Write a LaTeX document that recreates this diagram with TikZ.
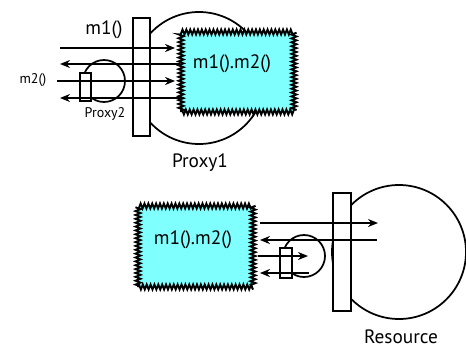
\documentclass[tikz,border=0pt]{standalone}
\usepackage{fontspec}
\setmainfont{PT Sans}
\usetikzlibrary{arrows.meta,decorations.pathmorphing}
\definecolor{cloudcyan}{RGB}{128,255,255}
\newcommand{\px}{0.75pt}

\begin{document}
\begin{tikzpicture}[x=\px,y=-\px,line width=1.3pt,
    ball/.style={draw,circle,inner sep=0pt},
    bar/.style={draw,fill=white,rectangle,inner sep=0pt},
    cloudbox/.style={draw,fill=cloudcyan,inner sep=0pt,line width=1.4pt,
      line join=miter,decorate,
      decoration={zigzag,segment length=2.9pt,amplitude=1.9pt}},
    msg/.style={-{Stealth[length=7.5pt,width=6pt]}},
    big/.style={font=\fontsize{14.5}{16}\selectfont},
    small/.style={font=\fontsize{10.5}{12}\selectfont}]
  \useasboundingbox (0,0) rectangle (466,350);

  % Proxy1 with Proxy2 in front
  \node[ball,minimum size=132*\px] (proxy1) at (199,78) {};
  \node[bar,minimum width=17*\px,minimum height=118*\px] (bar1) at (141.5,77) {};
  \node[ball,minimum size=42*\px] (proxy2) at (104,81) {};
  \node[bar,minimum width=11*\px,minimum height=28*\px] (bar2) at (85.5,87) {};

  \node[cloudbox,minimum width=113*\px,minimum height=80*\px] (cloud1) at (237.5,72) {};
  \node[big] (txt1) at (232,64) {m1().m2()};

  \coordinate (a1) at (60,48);
  \coordinate (a2) at (60,64);
  \coordinate (a3) at (57,81);
  \coordinate (a4) at (60,98);
  \draw[msg,shorten >=3.75pt] (a1) -- (a1 -| cloud1.west);
  \draw[msg] (a2 -| cloud1.west) -- (a2);
  \draw[msg,shorten >=3.75pt] (a3) -- (a3 -| cloud1.west);
  \draw[msg] (a4 -| cloud1.west) -- (a4);

  \node[big] (lblm1) at (104,30) {m1()};
  \node[small] (lblm2) at (33,80) {m2()};
  \node[small] (lblp2) at (105,114) {Proxy2};
  \node[big] (lblp1) at (200,163) {Proxy1};

  % Resource
  \node[ball,minimum size=134*\px] (res) at (399,252) {};
  \node[bar,minimum width=18*\px,minimum height=118*\px] (bar3) at (342,252) {};
  \node[ball,minimum size=42*\px] (proxy3) at (304,256) {};
  \node[bar,minimum width=12*\px,minimum height=30*\px] (bar4) at (286,263) {};

  \node[cloudbox,minimum width=115*\px,minimum height=81*\px] (cloud2) at (195.5,246.5) {};
  \node[big] (txt2) at (193,240) {m1().m2()};

  \coordinate (b1) at (378,223);
  \coordinate (b2) at (377,240);
  \coordinate (b3) at (308,256);
  \coordinate (b4) at (309,273);
  \draw[msg,shorten <=4.5pt] (b1 -| cloud2.east) -- (b1);
  \draw[msg,shorten >=4.5pt] (b2) -- (b2 -| cloud2.east);
  \draw[msg,shorten <=3pt] (b3 -| cloud2.east) -- (b3);
  \draw[msg,shorten >=4.5pt] (b4) -- (b4 -| cloud2.east);

  \node[big] (lblres) at (401,337) {Resource};
\end{tikzpicture}
\end{document}
